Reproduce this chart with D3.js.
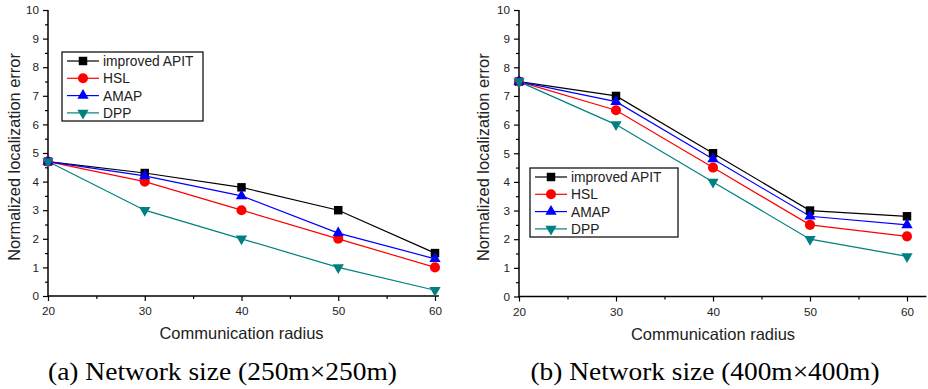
<!DOCTYPE html>
<html>
<head>
<meta charset="utf-8">
<script src="https://cdn.jsdelivr.net/npm/d3@7"></script>
<style>
  body { margin: 0; background: #fff; }
  svg { display: block; }
  text { font-family: "Liberation Sans", Arial, sans-serif; fill: #222; }
  .caption { font-family: "Liberation Serif", "Times New Roman", serif; fill: #000; }
</style>
</head>
<body>
<svg id="chart" width="928" height="389"></svg>
<script>
// communication radius (x categories)
const radius = [20, 30, 40, 50, 60];
const seriesNames = ['improved APIT', 'HSL', 'AMAP', 'DPP'];

// (a) 250m x 250m
const apitA = [4.7, 4.3, 3.8, 3.0, 1.5];
const hslA  = [4.7, 4.0, 3.0, 2.0, 1.0];
const amapA = [4.7, 4.2, 3.5, 2.2, 1.3];
const dppA  = [4.7, 3.0, 2.0, 1.0, 0.2];

// (b) 400m x 400m
const apitB = [7.5, 7.0, 5.0, 3.0, 2.8];
const hslB  = [7.5, 6.5, 4.5, 2.5, 2.1];
const amapB = [7.5, 6.8, 4.8, 2.8, 2.5];
const dppB  = [7.5, 6.0, 4.0, 2.0, 1.4];

const yTicks = d3.range(0, 11);
const xTicks = [20, 30, 40, 50, 60];

const colors = ['#000000', '#ff0000', '#0000ff', '#008080'];
const shapes = [d3.symbolSquare, d3.symbolCircle, d3.symbolTriangle, d3.symbolTriangle];
const sizes = [72, 80, 55, 55];
const rotate = [0, 0, 0, 180];

const svg = d3.select('#chart');

function drawPanel(opt) {
  const x = d3.scaleLinear().domain([20, 60]).range([opt.x0, opt.x1]);
  const y = d3.scaleLinear().domain([0, 10]).range([opt.y0, opt.y1]);
  const g = svg.append('g');

  // minor ticks
  g.append('g')
    .attr('transform', 'translate(' + opt.x0 + ',0)')
    .call(d3.axisLeft(y).tickValues(d3.range(0.5, 10, 1)).tickSize(3).tickFormat('').tickSizeOuter(0))
    .call(a => a.select('.domain').remove());
  g.append('g')
    .attr('transform', 'translate(0,' + opt.y0 + ')')
    .call(d3.axisBottom(x).tickValues([25, 35, 45, 55]).tickSize(3).tickFormat('').tickSizeOuter(0))
    .call(a => a.select('.domain').remove());

  // major ticks
  const ya = g.append('g')
    .attr('transform', 'translate(' + opt.x0 + ',0)')
    .call(d3.axisLeft(y).tickValues(yTicks).tickSize(5).tickPadding(4).tickSizeOuter(0));
  ya.select('.domain').remove();
  ya.selectAll('text').attr('font-size', 11.7).attr('fill', '#222');

  const xa = g.append('g')
    .attr('transform', 'translate(0,' + opt.y0 + ')')
    .call(d3.axisBottom(x).tickValues(xTicks).tickSize(5).tickPadding(6).tickSizeOuter(0));
  xa.select('.domain').remove();
  xa.selectAll('text').attr('font-size', 11.7).attr('fill', '#222');

  g.selectAll('.tick line').attr('stroke', '#000').attr('stroke-width', 1.2);

  // axis lines
  g.append('line')
    .attr('x1', opt.x0).attr('x2', opt.x0)
    .attr('y1', y(0) + 1).attr('y2', y(10))
    .attr('stroke', '#000').attr('stroke-width', 1.5);
  g.append('line')
    .attr('x1', x(20)).attr('x2', x(opt.xEnd))
    .attr('y1', opt.y0).attr('y2', opt.y0)
    .attr('stroke', '#000').attr('stroke-width', 1.5);

  // series
  const line = d3.line().x((d, i) => x(radius[i])).y(d => y(d));
  opt.series.forEach((vals, k) => {
    g.append('path')
      .attr('d', line(vals))
      .attr('fill', 'none')
      .attr('stroke', colors[k])
      .attr('stroke-width', 1.2);
  });
  opt.series.forEach((vals, k) => {
    g.selectAll(null)
      .data(vals)
      .enter().append('path')
      .attr('d', d3.symbol().type(shapes[k]).size(sizes[k]))
      .attr('transform', (d, i) => 'translate(' + x(radius[i]) + ',' + y(d) + ') rotate(' + rotate[k] + ')')
      .attr('fill', colors[k]);
  });

  // axis titles
  g.append('text')
    .attr('transform', 'translate(' + opt.tx + ',' + ((opt.y0 + opt.y1) / 2 + 4) + ') rotate(-90)')
    .attr('text-anchor', 'middle')
    .attr('font-size', 16.4)
    .text('Normalized localization error');
  g.append('text')
    .attr('x', (opt.x0 + opt.x1) / 2)
    .attr('y', opt.y0 + 43)
    .attr('text-anchor', 'middle')
    .attr('font-size', 16.5)
    .text('Communication radius');

  // legend
  const lg = g.append('g').attr('transform', 'translate(' + opt.lx + ',' + opt.ly + ')');
  lg.append('rect')
    .attr('width', opt.lw).attr('height', 69)
    .attr('fill', '#fff').attr('stroke', '#000').attr('stroke-width', 1.2);
  const item = lg.selectAll('g')
    .data(seriesNames)
    .enter().append('g')
    .attr('transform', (d, i) => 'translate(0,' + (9 + i * 17.3) + ')');
  item.append('line')
    .attr('x1', 5).attr('x2', 37)
    .attr('stroke', (d, i) => colors[i]).attr('stroke-width', 1.2);
  item.append('path')
    .attr('d', (d, i) => d3.symbol().type(shapes[i]).size(sizes[i])())
    .attr('transform', (d, i) => 'translate(21,0) rotate(' + rotate[i] + ')')
    .attr('fill', (d, i) => colors[i]);
  item.append('text')
    .attr('x', 41).attr('dy', '0.36em')
    .attr('font-size', 13.8)
    .text(d => d);

  // caption
  svg.append('text')
    .attr('class', 'caption')
    .attr('x', opt.cx)
    .attr('y', 380)
    .attr('text-anchor', 'middle')
    .attr('font-size', 26)
    .attr('textLength', 349)
    .attr('lengthAdjust', 'spacingAndGlyphs')
    .text(opt.caption);
}

drawPanel({
  x0: 48, x1: 435, y0: 296, y1: 10, xEnd: 60.4, tx: 19.5,
  series: [apitA, hslA, amapA, dppA],
  lx: 62, ly: 52, lw: 141,
  cx: 222.5, caption: '(a) Network size (250m\u00d7250m)'
});

drawPanel({
  x0: 519, x1: 907, y0: 296.5, y1: 10, xEnd: 62, tx: 489,
  series: [apitB, hslB, amapB, dppB],
  lx: 530, ly: 168, lw: 148,
  cx: 705, caption: '(b) Network size (400m\u00d7400m)'
});
</script>
</body>
</html>
